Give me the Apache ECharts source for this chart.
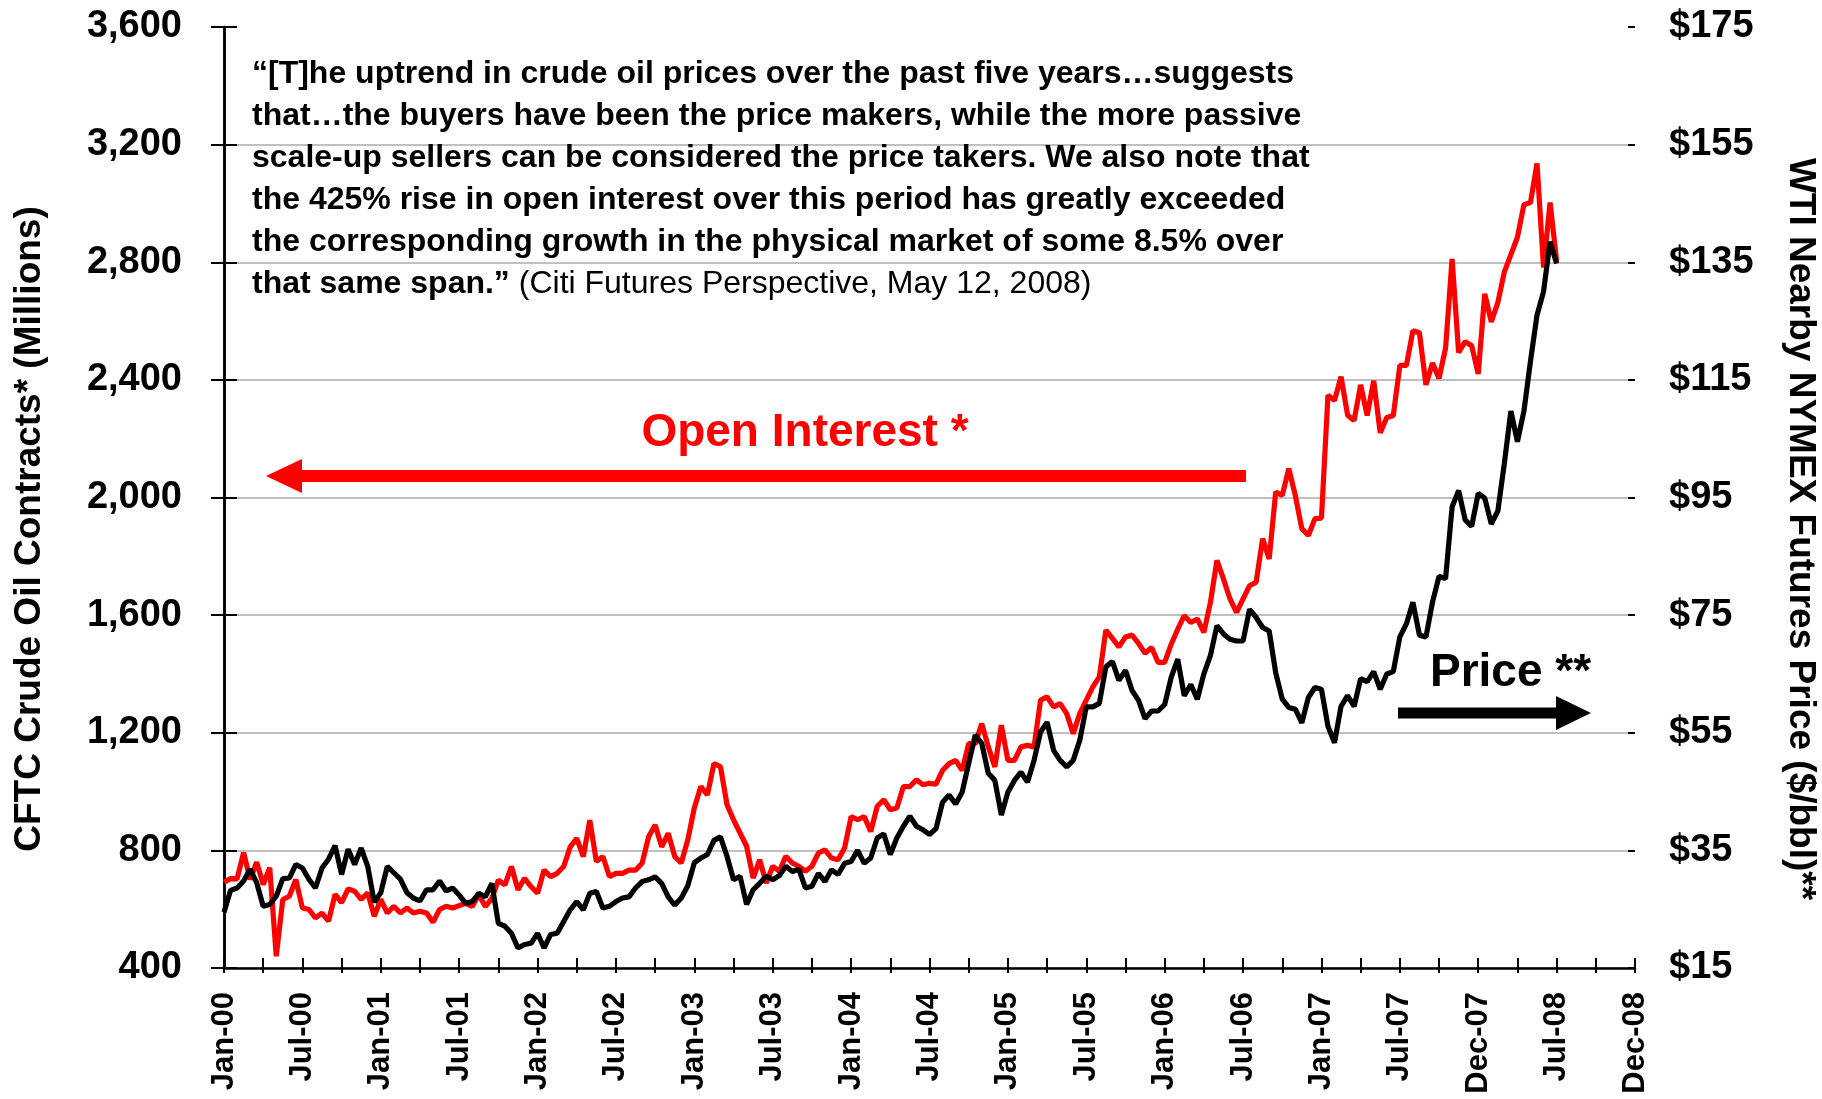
<!DOCTYPE html>
<html><head><meta charset="utf-8">
<script src="https://cdn.jsdelivr.net/npm/echarts@6/dist/echarts.min.js"></script>
<style>html,body{margin:0;padding:0;background:#fff}#c{width:1822px;height:1099px}</style>
</head><body><div id="c"></div>
<script>
// X tick labels (one every 6 months on the axis)
const xTickLabels = ['Jan-00','Jul-00','Jan-01','Jul-01','Jan-02','Jul-02','Jan-03','Jul-03','Jan-04','Jul-04','Jan-05','Jul-05','Jan-06','Jul-06','Jan-07','Jul-07','Dec-07','Jul-08','Dec-08'];

// Open interest (left axis), half-month samples
const oi2000 = [692,704,703,792,701,760,684,741,440,633,644,701,604,599,570,587,559,650,622,669,661,633,656,576];
const oi2001 = [633,587,610,587,604,587,593,587,556,599,610,604,612,620,609,649,609,637,699,683,745,666,705,677];
const oi2002 = [654,733,711,722,745,812,841,779,903,762,779,711,722,722,733,733,756,846,886,812,858,779,757,836];
const oi2003 = [945,1017,989,1095,1085,955,904,859,814,706,768,689,746,729,780,757,746,729,746,791,802,774,768,808];
const oi2004 = [915,904,915,864,950,972,938,944,1017,1017,1040,1023,1028,1025,1072,1095,1106,1072,1163,1163,1231,1152,1084,1226];
const oi2005 = [1106,1106,1152,1157,1152,1311,1322,1288,1299,1265,1197,1265,1311,1356,1390,1549,1521,1492,1526,1532,1504,1470,1490,1439];
const oi2006 = [1439,1501,1552,1598,1575,1587,1541,1643,1786,1723,1655,1609,1655,1700,1712,1860,1791,2019,2007,2098,2007,1894,1871,1928];
const oi2007 = [1930,2348,2330,2411,2280,2262,2383,2279,2397,2220,2272,2279,2449,2449,2567,2560,2383,2457,2405,2508,2811,2493,2530,2516];
const oi2008 = [2420,2693,2597,2663,2767,2826,2885,2996,3003,3136,2782,3003,2804];

// WTI price (right axis, $/bbl), half-month samples
const px2000 = [24.5,28.2,28.6,29.8,31.8,29.5,25.5,25.8,27.2,30.2,30.3,32.6,32.0,30.1,28.6,32.0,33.5,35.8,30.9,35.2,32.6,35.4,32.3,26.2];
const px2001 = [27.8,32.3,31.2,30.1,27.8,26.9,26.4,28.3,28.3,29.8,28.1,28.6,27.4,26.0,26.3,27.7,27.1,29.4,22.6,22.1,20.9,18.4,19.0,19.2];
const px2002 = [20.9,18.4,20.7,20.9,22.9,24.9,26.3,24.9,27.7,28.0,25.2,25.5,26.3,26.9,27.1,28.6,29.7,30.0,30.5,29.4,27.1,25.7,26.9,29.0];
const px2003 = [32.9,33.7,34.3,36.7,37.3,34.0,30.0,30.6,25.8,28.3,29.4,30.6,30.0,30.7,32.3,31.4,31.8,28.6,28.9,31.1,29.7,31.7,30.9,32.8];
const px2004 = [33.1,35.0,32.8,33.7,37.1,37.8,34.3,37.1,39.1,40.8,39.1,38.5,37.7,38.7,43.2,44.4,42.9,44.9,49.8,54.6,53.2,48.1,46.9,41.0];
const px2005 = [44.9,46.9,48.3,46.6,50.3,55.1,56.8,52.0,50.3,49.2,50.3,53.7,59.4,59.4,60.0,66.2,67.1,63.9,65.6,62.2,60.5,57.4,58.7,58.7];
const px2006 = [59.8,64.4,67.5,61.3,63.2,60.7,65.0,68.1,73.2,71.8,70.9,70.6,70.6,76.0,74.6,72.9,72.3,65.2,60.7,59.3,59.0,56.7,61.0,62.7];
const px2007 = [62.4,56.1,53.3,59.5,61.3,59.5,64.2,63.7,65.4,62.4,65.0,65.4,71.3,73.5,77.2,71.6,71.3,77.2,81.6,81.2,93.4,96.2,91.2,90.1];
const px2008 = [95.7,94.9,90.5,92.7,100.8,109.7,104.5,109.7,118.2,126.0,130.0,138.5,134.8];

const oiAll = [].concat(oi2000,oi2001,oi2002,oi2003,oi2004,oi2005,oi2006,oi2007,oi2008);
const pxAll = [].concat(px2000,px2001,px2002,px2003,px2004,px2005,px2006,px2007,px2008);
// x position in months from Jan-00 (half-month step)
const oiData = oiAll.map((v,i)=>[i*0.5, v]);
const pxData = pxAll.map((v,i)=>[i*0.5, v]);

const FF = "'Liberation Sans', Arial, sans-serif";
const gridCol = '#c0c0c0';

const chart = echarts.init(document.getElementById('c'), null, {renderer:'canvas'});
const xBase = {type:'value', min:0, max:108, interval:3, gridIndex:0, position:'bottom', splitLine:{show:false}};
const option = {
  animation:false,
  backgroundColor:'#fff',
  grid:{left:224, right:187, top:27, bottom:131},
  xAxis:[
    Object.assign({}, xBase, {
      axisLine:{show:true, lineStyle:{color:'#000', width:2.5}},
      axisTick:{show:true, inside:true, length:10, lineStyle:{color:'#000', width:2}},
      axisLabel:{show:true, rotate:90, margin:24, color:'#000', fontFamily:FF, fontWeight:'bold', fontSize:31,
        formatter:(v)=> (v%6===0 ? xTickLabels[v/6] : '')}
    }),
    Object.assign({}, xBase, {
      axisLine:{show:false},
      axisTick:{show:true, inside:false, length:5, lineStyle:{color:'#000', width:2}},
      axisLabel:{show:false}
    })
  ],
  yAxis:[
    {type:'value', position:'left', min:400, max:3600, interval:400,
      axisLine:{show:true, lineStyle:{color:'#000', width:2.5}},
      axisTick:{show:true, inside:false, length:13, lineStyle:{color:'#000', width:2}},
      axisLabel:{color:'#000', fontFamily:FF, fontWeight:'bold', fontSize:38, margin:42,
        formatter:(v)=>v.toLocaleString('en-US')},
      splitLine:{show:true, lineStyle:{color:[gridCol,gridCol,gridCol,gridCol,gridCol,gridCol,gridCol,gridCol,'rgba(0,0,0,0)'], width:2}}
    },
    {type:'value', position:'right', min:15, max:175, interval:20,
      axisLine:{show:true, lineStyle:{color:'#000', width:2.5}},
      axisTick:{show:true, inside:false, length:13, lineStyle:{color:'#000', width:2}},
      axisLabel:{color:'#000', fontFamily:FF, fontWeight:'bold', fontSize:38, margin:34,
        formatter:(v)=>'$'+v},
      splitLine:{show:false}
    },
    {type:'value', position:'left', min:400, max:3600, interval:400,
      axisLine:{show:false}, axisTick:{show:true, inside:true, length:7, lineStyle:{color:'#000', width:2}},
      axisLabel:{show:false}, splitLine:{show:false}},
    {type:'value', position:'right', min:15, max:175, interval:20,
      axisLine:{show:false}, axisTick:{show:true, inside:true, length:7, lineStyle:{color:'#000', width:2}},
      axisLabel:{show:false}, splitLine:{show:false}}
  ],
  series:[
    {name:'Open Interest', type:'line', xAxisIndex:0, yAxisIndex:0, data:oiData, showSymbol:false, symbol:'none',
      lineStyle:{color:'#ff0000', width:5.2}, itemStyle:{color:'#ff0000'}, z:2},
    {name:'Price', type:'line', xAxisIndex:0, yAxisIndex:1, data:pxData, showSymbol:false, symbol:'none',
      lineStyle:{color:'#000000', width:5.2}, itemStyle:{color:'#000'}, z:3}
  ],
  graphic:[
    {type:'text', x:30, y:529, rotation:Math.PI/2,
      style:{text:'CFTC Crude Oil Contracts* (Millions)', fill:'#000', font:"bold 37px "+FF, align:'center', verticalAlign:'middle'}},
    {type:'text', x:1800, y:529, rotation:-Math.PI/2,
      style:{text:'WTI Nearby NYMEX Futures Price ($/bbl)**', fill:'#000', font:"bold 37px "+FF, align:'center', verticalAlign:'middle'}},
    {type:'text', x:252, y:53, z:10,
      style:{
        text:'{b|“[T]he uptrend in crude oil prices over the past five years…suggests}\n'+
             '{b|that…the buyers have been the price makers, while the more passive}\n'+
             '{b|scale-up sellers can be considered the price takers. We also note that}\n'+
             '{b|the 425% rise in open interest over this period has greatly exceeded}\n'+
             '{b|the corresponding growth in the physical market of some 8.5% over}\n'+
             '{b|that same span.”}{n| (Citi Futures Perspective, May 12, 2008)}',
        fill:'#000', align:'left', verticalAlign:'top', lineHeight:42,
        rich:{
          b:{font:"bold 32px "+FF, fill:'#000', lineHeight:42},
          n:{font:"32px "+FF, fill:'#000', lineHeight:42}
        }
      }},
    {type:'text', x:805, y:433, z:10,
      style:{text:'Open Interest *', fill:'#ff0000', font:"bold 46px "+FF, align:'center', verticalAlign:'middle'}},
    {type:'line', z:10, shape:{x1:1246, y1:476, x2:296, y2:476}, style:{stroke:'#ff0000', lineWidth:12}},
    {type:'polygon', z:10, shape:{points:[[266,476],[302,459],[302,493]]}, style:{fill:'#ff0000'}},
    {type:'text', x:1430, y:673, z:10,
      style:{text:'Price **', fill:'#000', font:"bold 46px "+FF, align:'left', verticalAlign:'middle'}},
    {type:'line', z:10, shape:{x1:1398, y1:713, x2:1562, y2:713}, style:{stroke:'#000', lineWidth:11}},
    {type:'polygon', z:10, shape:{points:[[1591,713],[1556,696],[1556,730]]}, style:{fill:'#000'}}
  ]
};
chart.setOption(option);
</script>
</body></html>
